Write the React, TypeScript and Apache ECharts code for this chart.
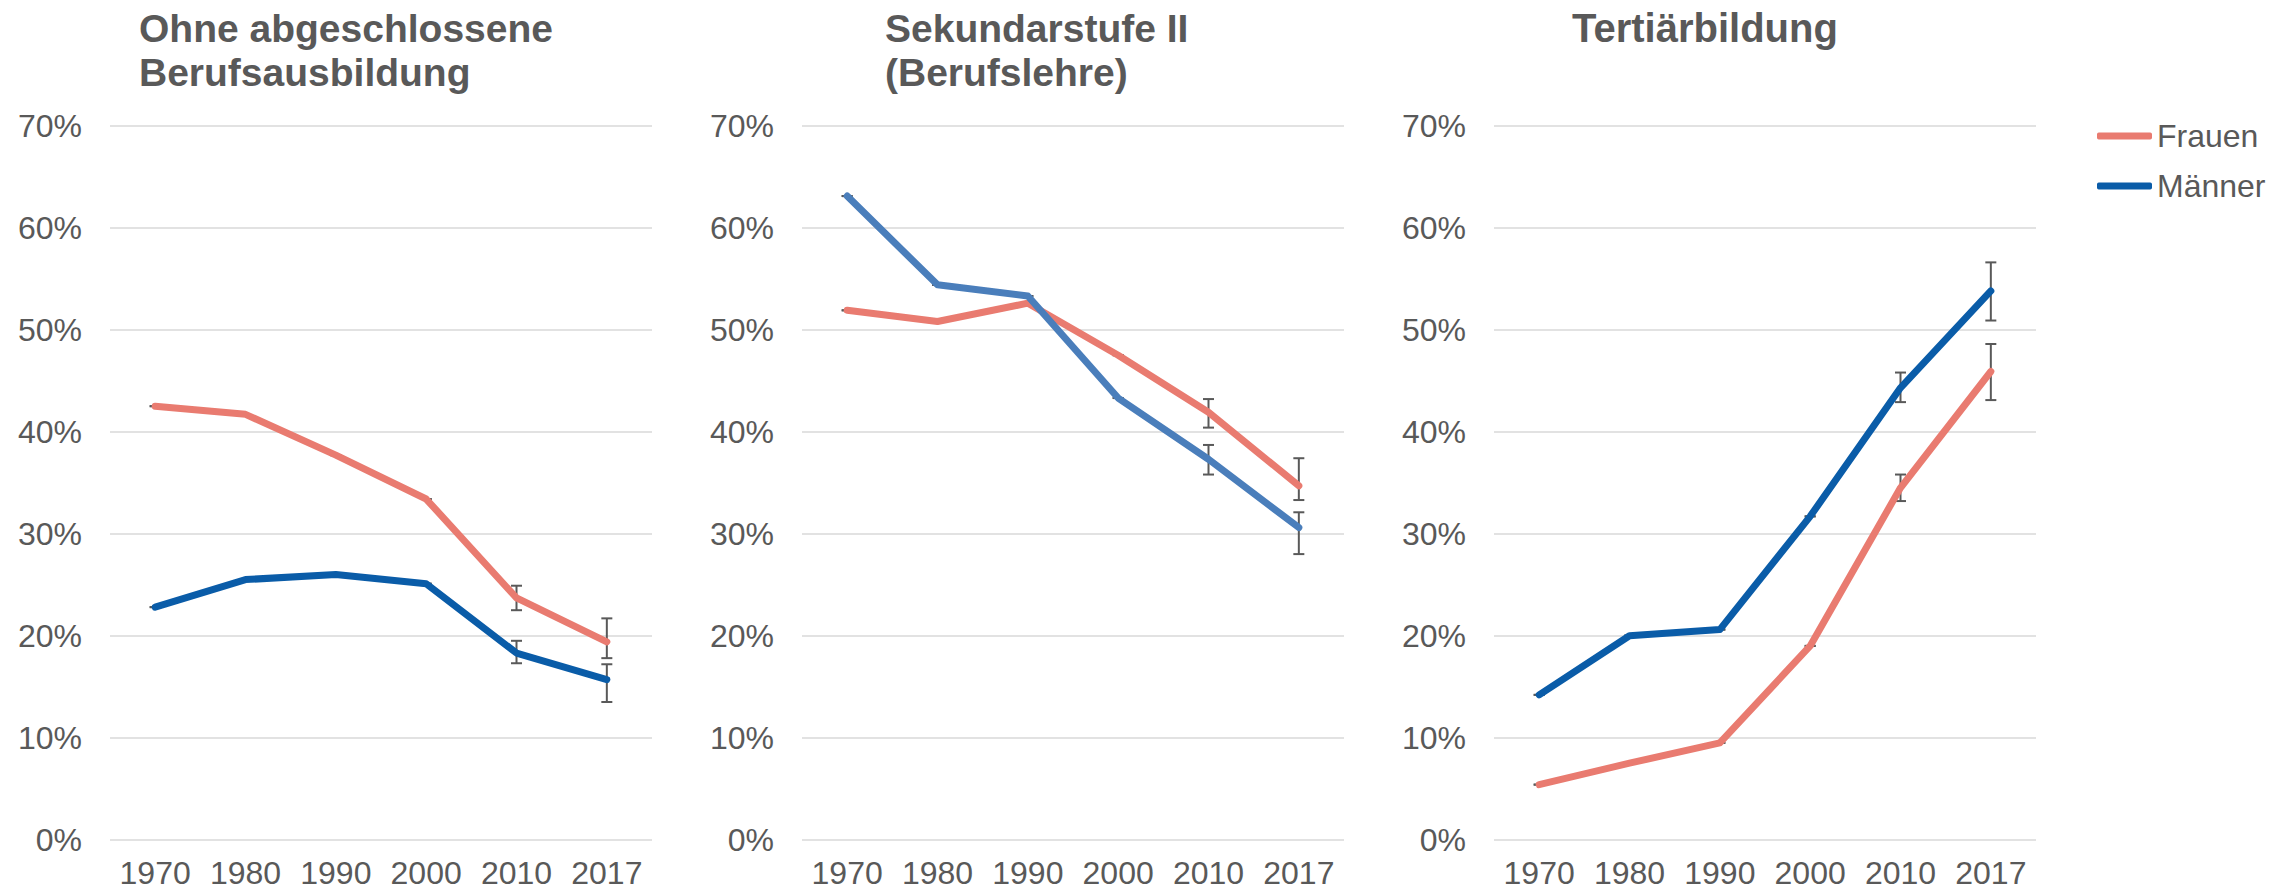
import React, { useEffect, useRef } from "react";
import * as echarts from "echarts";

const years = ["1970", "1980", "1990", "2000", "2010", "2017"];
const yTicks = [0, 10, 20, 30, 40, 50, 60, 70];

const titleOhne = "Ohne abgeschlossene\nBerufsausbildung";
const titleSek = "Sekundarstufe II\n(Berufslehre)";
const titleTert = "Tertiärbildung";

// Ohne abgeschlossene Berufsausbildung
const ohneFrauen = [42.5, 41.7, 37.7, 33.4, 23.7, 19.4];
const ohneMaenner = [22.8, 25.5, 26.0, 25.1, 18.3, 15.7];
const ohneFrauenLo = [42.5, 41.7, 37.7, 33.4, 22.5, 17.8];
const ohneFrauenHi = [42.5, 41.7, 37.7, 33.4, 24.9, 21.7];
const ohneMaennerLo = [22.8, 25.5, 26.0, 25.1, 17.3, 13.5];
const ohneMaennerHi = [22.8, 25.5, 26.0, 25.1, 19.5, 17.2];

// Sekundarstufe II (Berufslehre)
const sekFrauen = [51.9, 50.8, 52.6, 47.5, 41.9, 34.7];
const sekMaenner = [63.1, 54.4, 53.3, 43.3, 37.3, 30.6];
const sekFrauenLo = [51.9, 50.8, 52.6, 47.5, 40.4, 33.3];
const sekFrauenHi = [51.9, 50.8, 52.6, 47.5, 43.2, 37.4];
const sekMaennerLo = [63.1, 54.4, 53.3, 43.3, 35.8, 28.0];
const sekMaennerHi = [63.1, 54.4, 53.3, 43.3, 38.7, 32.1];

// Tertiärbildung
const tertFrauen = [5.4, 7.5, 9.5, 19.0, 34.5, 45.9];
const tertMaenner = [14.2, 20.0, 20.6, 31.7, 44.3, 53.8];
const tertFrauenLo = [5.4, 7.5, 9.5, 19.0, 33.2, 43.1];
const tertFrauenHi = [5.4, 7.5, 9.5, 19.0, 35.8, 48.6];
const tertMaennerLo = [14.2, 20.0, 20.6, 31.7, 42.9, 50.9];
const tertMaennerHi = [14.2, 20.0, 20.6, 31.7, 45.8, 56.6];

const FONT = "'Liberation Sans', Arial, sans-serif";
const TEXT = "#595959";
const RED = "#E97B70";
const BLUE = "#0A5CA8";
const BLUE2 = "#4A7EBB";

export default function App() {
  const ref = useRef<HTMLDivElement>(null);

  useEffect(() => {
    if (!ref.current) return;
    const chart = echarts.init(ref.current, undefined, { renderer: "svg" });

    const panels = [
      { title: titleOhne, tSize: 39, f: ohneFrauen, m: ohneMaenner, fLo: ohneFrauenLo, fHi: ohneFrauenHi, mLo: ohneMaennerLo, mHi: ohneMaennerHi, mColor: BLUE, left: 110, titleLeft: 139 },
      { title: titleSek, tSize: 39, f: sekFrauen, m: sekMaenner, fLo: sekFrauenLo, fHi: sekFrauenHi, mLo: sekMaennerLo, mHi: sekMaennerHi, mColor: BLUE2, left: 802, titleLeft: 885 },
      { title: titleTert, tSize: 40, f: tertFrauen, m: tertMaenner, fLo: tertFrauenLo, fHi: tertFrauenHi, mLo: tertMaennerLo, mHi: tertMaennerHi, mColor: BLUE, left: 1494, titleLeft: 1572 },
    ];

    const errRender = (params: any, api: any) => {
      const lo = api.coord([api.value(0), api.value(1)]);
      const hi = api.coord([api.value(0), api.value(2)]);
      const w = 5.5;
      const st = { stroke: "#595959", lineWidth: 2 };
      return {
        type: "group",
        children: [
          { type: "line", shape: { x1: lo[0], y1: lo[1], x2: hi[0], y2: hi[1] }, style: st },
          { type: "line", shape: { x1: lo[0] - w, y1: lo[1], x2: lo[0] + w, y2: lo[1] }, style: st },
          { type: "line", shape: { x1: hi[0] - w, y1: hi[1], x2: hi[0] + w, y2: hi[1] }, style: st },
        ],
      };
    };

    const grid: any[] = [];
    const xAxis: any[] = [];
    const yAxis: any[] = [];
    const series: any[] = [];
    const title: any[] = [];

    panels.forEach((p, i) => {
      grid.push({ left: p.left, top: 125.7, width: 542, height: 714 });
      title.push({
        text: p.title,
        left: p.titleLeft,
        top: 6,
        padding: 0,
        textStyle: { fontFamily: FONT, fontSize: p.tSize, lineHeight: 44, fontWeight: "bold", color: TEXT },
      });
      xAxis.push({
        type: "category",
        gridIndex: i,
        data: years,
        boundaryGap: true,
        axisLine: { show: false },
        axisTick: { show: false },
        axisLabel: { fontFamily: FONT, fontSize: 32, lineHeight: 28, color: TEXT, margin: 19, interval: 0, hideOverlap: false },
      });
      yAxis.push({
        type: "value",
        gridIndex: i,
        min: 0,
        max: yTicks[yTicks.length - 1],
        interval: 10,
        axisLine: { show: false },
        axisTick: { show: false },
        axisLabel: { fontFamily: FONT, fontSize: 32, color: TEXT, margin: 28, formatter: "{value}%" },
        splitLine: { lineStyle: { color: "#D9D9D9", width: 1.5 } },
      });
      const errF = years.map((_, k) => [k, p.fLo[k], p.fHi[k]]);
      const errM = years.map((_, k) => [k, p.mLo[k], p.mHi[k]]);
      series.push({
        type: "custom",
        xAxisIndex: i,
        yAxisIndex: i,
        renderItem: errRender,
        data: errF,
        encode: { x: 0, y: [1, 2] },
        z: 1,
        silent: true,
      });
      series.push({
        type: "custom",
        xAxisIndex: i,
        yAxisIndex: i,
        renderItem: errRender,
        data: errM,
        encode: { x: 0, y: [1, 2] },
        z: 1,
        silent: true,
      });
      series.push({
        name: "Frauen",
        type: "line",
        xAxisIndex: i,
        yAxisIndex: i,
        data: p.f,
        symbol: "none",
        color: RED,
        lineStyle: { width: 7, color: RED, cap: "round", join: "round" },
        z: 3,
      });
      series.push({
        name: "Männer",
        type: "line",
        xAxisIndex: i,
        yAxisIndex: i,
        data: p.m,
        symbol: "none",
        color: p.mColor,
        lineStyle: { width: 7, color: p.mColor, cap: "round", join: "round" },
        z: 3,
      });
    });

    chart.setOption({
      animation: false,
      backgroundColor: "#ffffff",
      title,
      legend: {
        data: [
          { name: "Frauen", icon: "roundRect" },
          { name: "Männer", icon: "roundRect" },
        ],
        orient: "vertical",
        left: 2097,
        top: 120,
        padding: 0,
        itemWidth: 55,
        itemHeight: 7,
        itemGap: 18,
        textStyle: { fontFamily: FONT, fontSize: 32, color: TEXT },
      },
      grid,
      xAxis,
      yAxis,
      series,
    });

    return () => chart.dispose();
  }, []);

  return (
    <div
      ref={ref}
      style={{ position: "fixed", left: 0, top: 0, width: 2293, height: 892, background: "#fff" }}
    />
  );
}
